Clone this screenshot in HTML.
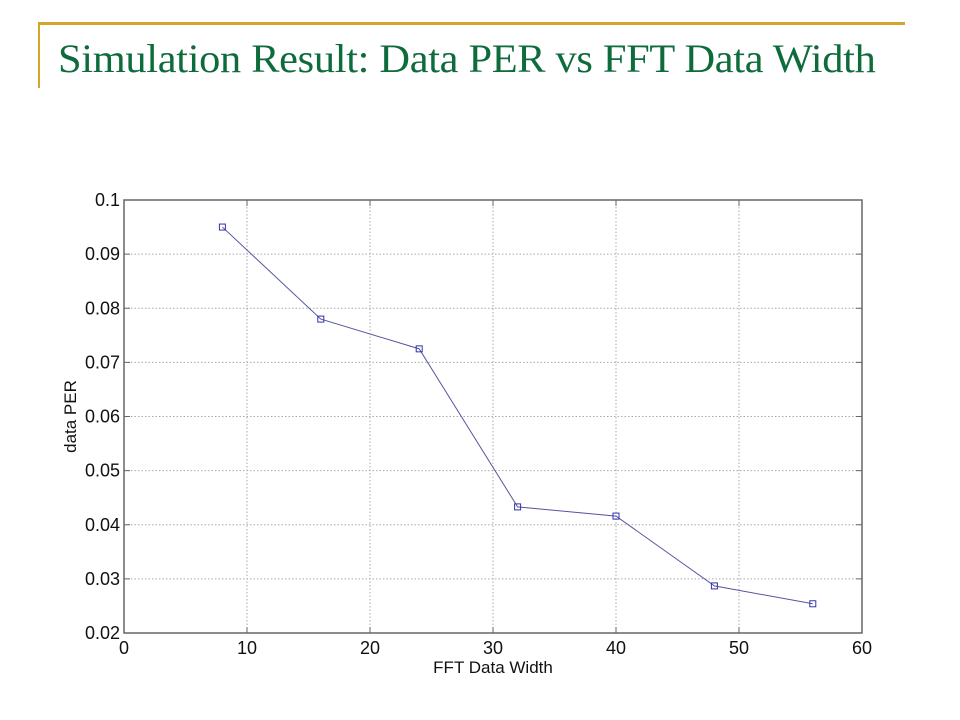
<!DOCTYPE html>
<html><head><meta charset="utf-8"><style>
body{margin:0;background:#fff;width:960px;height:720px;overflow:hidden;position:relative}
#title{position:absolute;left:58px;top:35px;font-family:"Liberation Serif",serif;font-size:40px;color:#0e6b3c;white-space:nowrap;letter-spacing:-0.3px;transform-origin:0 0;transform:scaleX(1.06)}
</style></head><body>
<div style="position:absolute;left:38px;top:22px;width:867px;height:3px;background:#d4a52a"></div>
<div style="position:absolute;left:38px;top:22px;width:2px;height:66px;background:#d4a52a"></div>
<div id="title">Simulation Result: Data PER vs FFT Data Width</div>
<svg id="chart" width="960" height="720" style="position:absolute;left:0;top:0" font-family="Liberation Sans, sans-serif"></svg>
<script>
const xValues=[8,16,24,32,40,48,56];
const perValues=[0.095,0.078,0.0725,0.0433,0.0416,0.0287,0.0254];
const xTicks=[0,10,20,30,40,50,60];
const yTicks=[0.02,0.03,0.04,0.05,0.06,0.07,0.08,0.09,0.1];
const yTickLabels=["0.02","0.03","0.04","0.05","0.06","0.07","0.08","0.09","0.1"];
const L=124,R=862,T=200,B=633;
const sx=v=>L+(v-0)/(60-0)*(R-L);
const sy=v=>B-(v-0.02)/(0.1-0.02)*(B-T);
const svg=document.getElementById('chart');
const NS='http://www.w3.org/2000/svg';
function mk(tag,attrs,parent){const e=document.createElementNS(NS,tag);for(const k in attrs)e.setAttribute(k,attrs[k]);(parent||svg).appendChild(e);return e;}
const grid=mk('g',{});


xTicks.forEach(t=>{
 if(t>0&&t<60){const l=mk('line',{x1:sx(t),x2:sx(t),y1:T,y2:B,stroke:'#aaa','stroke-dasharray':'1.5,2','stroke-width':1},grid);
 
 }
 const tk=mk('line',{x1:sx(t),x2:sx(t),y1:B,y2:B-6,stroke:'#666'});
 
 
 const tk2=mk('line',{x1:sx(t),x2:sx(t),y1:T,y2:T+6,stroke:'#666'});
 
 
 const tx=mk('text',{x:sx(t),y:B+21,'text-anchor':'middle','font-size':18,fill:'#111'});
 tx.textContent=t;
 
 
});
yTicks.forEach((t,i)=>{
 if(i>0&&i<yTicks.length-1){const l=mk('line',{x1:L,x2:R,y1:sy(t),y2:sy(t),stroke:'#aaa','stroke-dasharray':'1.5,2','stroke-width':1},grid);
 
 }
 const tk=mk('line',{x1:L,x2:L+6,y1:sy(t),y2:sy(t),stroke:'#666'});
 
 
 const tk2=mk('line',{x1:R,x2:R-6,y1:sy(t),y2:sy(t),stroke:'#666'});
 
 
 const tx=mk('text',{x:L-4,y:sy(t)+6,'text-anchor':'end','font-size':18,fill:'#111'});
 tx.textContent=yTickLabels[i];
 
 
});
const frame=mk('rect',{x:L,y:T,width:R-L,height:B-T,fill:'none',stroke:'#666','stroke-width':1.5});


const pts=xValues.map((x,i)=>sx(x)+','+sy(perValues[i])).join(' ');
const line=mk('polyline',{points:pts,fill:'none',stroke:'#5555a0','stroke-width':1});


xValues.forEach((x,i)=>{
 const m=mk('rect',{x:sx(x)-3,y:sy(perValues[i])-3,width:6,height:6,fill:'none',stroke:'#3333aa','stroke-width':1});
 
 
});
const xl=mk('text',{x:(L+R)/2,y:B+40,'text-anchor':'middle','font-size':17,fill:'#111'});
xl.textContent='FFT Data Width';


const yl=mk('text',{x:0,y:0,'text-anchor':'middle','font-size':17,fill:'#111',transform:`translate(76,${(T+B)/2}) rotate(-90)`});
yl.textContent='data PER';


</script>
</body></html>
